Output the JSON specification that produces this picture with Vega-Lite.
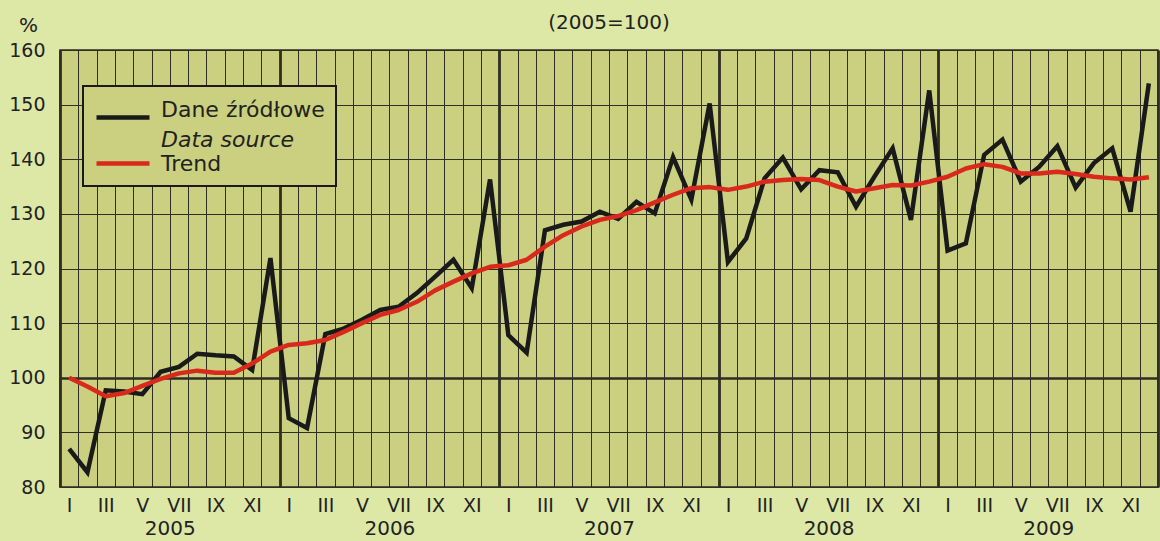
{
  "$schema": "https://vega.github.io/schema/vega-lite/v6.json",
  "width": 1098,
  "height": 437,
  "autosize": "none",
  "padding": {"left": 60, "top": 50, "right": 2, "bottom": 54},
  "background": "#dde8a6",
  "config": {
    "font": "DejaVu Sans",
    "view": {"fill": "#cad07f", "stroke": "#2b2b20", "strokeWidth": 1.5}
  },
  "title": {"text": "(2005=100)", "fontSize": 20, "fontWeight": "normal", "color": "#222222", "anchor": "middle", "offset": -18},
  "data": {
    "values": [
      {"t": 1, "src": 87.0, "trend": 100.0},
      {"t": 2, "src": 82.7, "trend": 98.4},
      {"t": 3, "src": 97.7, "trend": 96.6},
      {"t": 4, "src": 97.5, "trend": 97.2},
      {"t": 5, "src": 97.0, "trend": 98.5},
      {"t": 6, "src": 101.1, "trend": 99.8},
      {"t": 7, "src": 102.0, "trend": 100.8},
      {"t": 8, "src": 104.4, "trend": 101.3},
      {"t": 9, "src": 104.1, "trend": 100.9},
      {"t": 10, "src": 103.9, "trend": 100.9},
      {"t": 11, "src": 101.4, "trend": 102.6},
      {"t": 12, "src": 121.9, "trend": 104.8},
      {"t": 13, "src": 92.6, "trend": 106.0},
      {"t": 14, "src": 90.8, "trend": 106.3},
      {"t": 15, "src": 108.0, "trend": 106.9},
      {"t": 16, "src": 109.0, "trend": 108.4},
      {"t": 17, "src": 110.6, "trend": 110.0},
      {"t": 18, "src": 112.4, "trend": 111.5},
      {"t": 19, "src": 113.0, "trend": 112.4},
      {"t": 20, "src": 115.5, "trend": 113.9},
      {"t": 21, "src": 118.5, "trend": 116.0},
      {"t": 22, "src": 121.6, "trend": 117.6},
      {"t": 23, "src": 116.4, "trend": 119.1},
      {"t": 24, "src": 136.3, "trend": 120.3},
      {"t": 25, "src": 107.8, "trend": 120.6},
      {"t": 26, "src": 104.6, "trend": 121.6},
      {"t": 27, "src": 127.0, "trend": 124.0},
      {"t": 28, "src": 128.0, "trend": 126.1},
      {"t": 29, "src": 128.6, "trend": 127.7},
      {"t": 30, "src": 130.4, "trend": 128.9},
      {"t": 31, "src": 129.1, "trend": 129.6},
      {"t": 32, "src": 132.2, "trend": 130.7},
      {"t": 33, "src": 130.1, "trend": 132.1},
      {"t": 34, "src": 140.4, "trend": 133.5},
      {"t": 35, "src": 132.6, "trend": 134.7},
      {"t": 36, "src": 150.2, "trend": 134.9},
      {"t": 37, "src": 121.2, "trend": 134.4},
      {"t": 38, "src": 125.5, "trend": 135.0},
      {"t": 39, "src": 136.5, "trend": 135.9},
      {"t": 40, "src": 140.3, "trend": 136.2},
      {"t": 41, "src": 134.5, "trend": 136.4},
      {"t": 42, "src": 138.0, "trend": 136.2},
      {"t": 43, "src": 137.6, "trend": 135.0},
      {"t": 44, "src": 131.3, "trend": 134.1},
      {"t": 45, "src": 136.8, "trend": 134.7},
      {"t": 46, "src": 142.0, "trend": 135.3},
      {"t": 47, "src": 128.9, "trend": 135.2},
      {"t": 48, "src": 152.6, "trend": 135.9},
      {"t": 49, "src": 123.3, "trend": 136.8},
      {"t": 50, "src": 124.6, "trend": 138.3},
      {"t": 51, "src": 140.8, "trend": 139.1},
      {"t": 52, "src": 143.6, "trend": 138.6},
      {"t": 53, "src": 135.9, "trend": 137.4},
      {"t": 54, "src": 138.6, "trend": 137.4},
      {"t": 55, "src": 142.4, "trend": 137.7},
      {"t": 56, "src": 134.8, "trend": 137.3},
      {"t": 57, "src": 139.3, "trend": 136.8},
      {"t": 58, "src": 142.0, "trend": 136.5},
      {"t": 59, "src": 130.4, "trend": 136.3},
      {"t": 60, "src": 153.9, "trend": 136.7}
    ]
  },
  "layer": [
    {
      "mark": {"type": "line", "strokeWidth": 4.5, "strokeJoin": "miter"},
      "encoding": {
        "x": {
          "field": "t", "type": "quantitative",
          "scale": {"domain": [0.5, 60.5], "nice": false, "zero": false},
          "axis": {
            "orient": "bottom",
            "values": [1,2,3,4,5,6,7,8,9,10,11,12,13,14,15,16,17,18,19,20,21,22,23,24,25,26,27,28,29,30,31,32,33,34,35,36,37,38,39,40,41,42,43,44,45,46,47,48,49,50,51,52,53,54,55,56,57,58,59,60],
            "labelExpr": "['I','','III','','V','','VII','','IX','','XI',''][(datum.value-1)%12]",
            "grid": false, "ticks": false, "domain": false,
            "labelFontSize": 19, "labelPadding": 9, "labelColor": "#222222",
            "labelOverlap": false, "labelFlush": false, "title": null
          }
        },
        "y": {
          "field": "src", "type": "quantitative",
          "scale": {"domain": [80, 160], "nice": false, "zero": false},
          "axis": {
            "values": [80, 90, 100, 110, 120, 130, 140, 150, 160],
            "grid": true, "gridColor": "#2e2e22",
            "gridWidth": {"condition": {"test": "datum.value == 100", "value": 2.6}, "value": 1},
            "ticks": false, "domain": false,
            "labelFontSize": 19, "labelPadding": 15, "labelColor": "#222222",
            "title": "%", "titleAngle": 0, "titleX": -32, "titleY": -25,
            "titleFontSize": 20, "titleFontWeight": "normal", "titleColor": "#222222",
            "titleAlign": "center", "titleBaseline": "middle"
          }
        },
        "color": {
          "datum": "Dane źródłowe", "type": "nominal",
          "scale": {"domain": ["Dane źródłowe", "Data source", "Trend"], "range": ["#1a1a1a", "#1a1a1a", "#d8291c"]},
          "legend": {
            "orient": "none", "legendX": 23, "legendY": 36, "title": null,
            "symbolType": "M-1,0L4.3,0", "symbolSize": 400, "symbolStrokeWidth": 4.5,
            "labelFontSize": 22, "labelColor": "#222222", "labelOffset": 42, "labelLimit": 400,
            "fillColor": "#cad07f", "strokeColor": "#1a1a1a", "padding": 11, "rowPadding": -3,
            "encode": {
              "legend": {"update": {"strokeWidth": {"value": 2}}},
              "symbols": {"update": {
                "shape": {"signal": "datum.label == 'Dane źródłowe' ? 'M-1,-0.8M-1,0.8L4.3,0.8' : 'M-1,0L4.3,0'"},
                "opacity": {"signal": "datum.label == 'Data source' ? 0 : 1"}
              }},
              "labels": {"update": {
                "fontStyle": {"signal": "datum.label == 'Data source' ? 'italic' : 'normal'"}
              }}
            }
          }
        }
      }
    },
    {
      "mark": {"type": "line", "strokeWidth": 4.5, "strokeJoin": "round"},
      "encoding": {
        "x": {
          "field": "t", "type": "quantitative",
          "scale": {"domain": [0.5, 60.5], "nice": false, "zero": false},
          "axis": {
            "orient": "bottom",
            "values": [0.5,1.5,2.5,3.5,4.5,5.5,6.5,7.5,8.5,9.5,10.5,11.5,12.5,13.5,14.5,15.5,16.5,17.5,18.5,19.5,20.5,21.5,22.5,23.5,24.5,25.5,26.5,27.5,28.5,29.5,30.5,31.5,32.5,33.5,34.5,35.5,36.5,37.5,38.5,39.5,40.5,41.5,42.5,43.5,44.5,45.5,46.5,47.5,48.5,49.5,50.5,51.5,52.5,53.5,54.5,55.5,56.5,57.5,58.5,59.5,60.5],
            "grid": true, "gridColor": "#2e2e22",
            "gridWidth": {"condition": {"test": "(datum.value - 0.5) % 12 == 0", "value": 2.8}, "value": 1},
            "ticks": false, "domain": false,
            "labelExpr": "(datum.value - 6.5) % 12 == 0 ? '' + (2005 + (datum.value - 6.5) / 12) : ''",
            "labelFontSize": 20, "labelPadding": 31, "labelColor": "#222222",
            "labelOverlap": false, "labelFlush": false, "title": null
          }
        },
        "y": {
          "field": "trend", "type": "quantitative",
          "scale": {"domain": [80, 160], "nice": false, "zero": false},
          "axis": {
            "values": [80, 90, 100, 110, 120, 130, 140, 150, 160],
            "grid": true, "gridColor": "#2e2e22",
            "gridWidth": {"condition": {"test": "datum.value == 100", "value": 2.6}, "value": 1},
            "ticks": false, "domain": false,
            "labelFontSize": 19, "labelPadding": 15, "labelColor": "#222222",
            "title": "%", "titleAngle": 0, "titleX": -32, "titleY": -25,
            "titleFontSize": 20, "titleFontWeight": "normal", "titleColor": "#222222",
            "titleAlign": "center", "titleBaseline": "middle"
          }
        },
        "color": {"datum": "Trend", "type": "nominal"}
      }
    }
  ],
  "resolve": {"scale": {"x": "independent"}, "axis": {"x": "independent"}}
}
